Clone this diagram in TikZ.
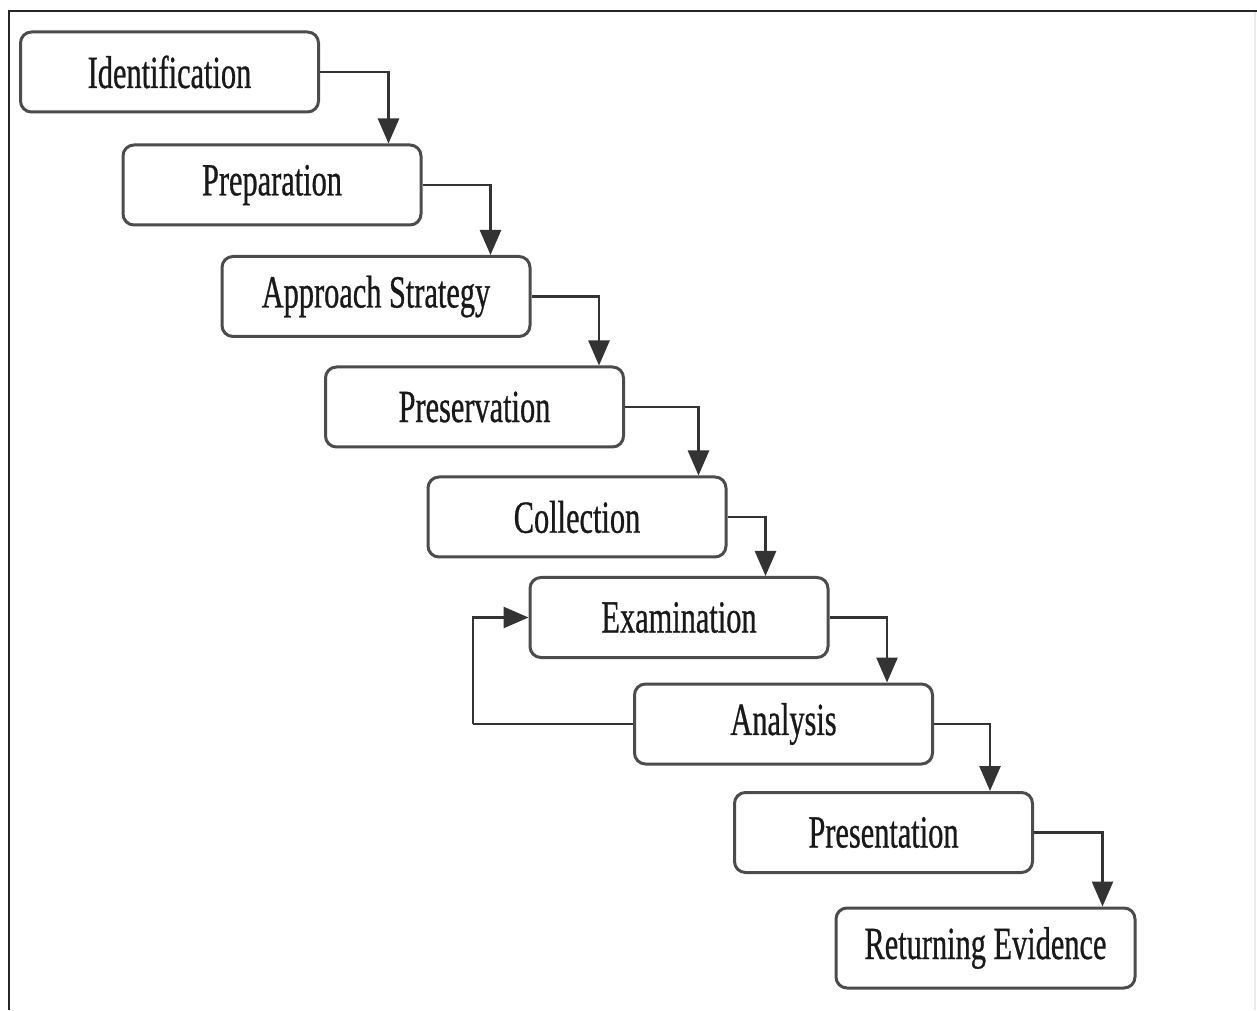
\documentclass[tikz,border=0pt]{standalone}
\usepackage{fontspec}
\setmainfont[FakeStretch=0.66,FakeBold=0.6]{Liberation Serif}
\usetikzlibrary{arrows.meta,calc}
\begin{document}
\begin{tikzpicture}[x=1pt,y=1pt,
  stage/.style={draw=black!70, line width=3pt, rounded corners=11pt, fill=white,
    minimum width=298pt, minimum height=80pt, inner sep=0pt,
    font=\fontsize{46pt}{50pt}\selectfont, text=black!90},
  flow/.style={draw=black!80, line width=2.6pt,
    -{Triangle[width=21pt,length=25pt]}},
  link/.style={draw=black!80, line width=2.6pt}]
\useasboundingbox (0,0) rectangle (1257,1010);
\fill[white] (0,0) rectangle (1257,1010);
% outer frame
\draw[black!85, line width=2pt] (8.5,0) -- (8.5,998.5) -- (1257,998.5);
\draw[black!8, line width=1.5pt] (1255,0) -- (1255,998);

% process stages
\node[stage] (id)  at (169.5,938)  {Identification};
\node[stage] (pre) at (272,825)    {Preparation};
\node[stage, minimum width=308pt] (app) at (376,713.5) {Approach Strategy};
\node[stage] (pres) at (474.5,603) {Preservation};
\node[stage] (col) at (577,493)    {Collection};
\node[stage] (ex)  at (679,392.5)  {Examination};
\node[stage] (an)  at (783.5,286)  {Analysis};
\node[stage] (pt)  at (883.5,177.5) {Presentation};
\node[stage, minimum width=299pt] (ret) at (985.5,62) {Returning Evidence};

% step-down connectors
\draw[flow] (id.east)   -| ([xshift=267pt]pre.north west);
\draw[flow] (pre.east)  -| ([xshift=270pt]app.north west);
\draw[flow] (app.east)  -| ([xshift=275pt]pres.north west);
\draw[flow] (pres.east) -| ([xshift=272pt]col.north west);
\draw[flow] (col.east)  -| ([xshift=237pt]ex.north west);
\draw[flow] (ex.east)   -| ([xshift=254pt]an.north west);
\draw[flow] (an.east)   -| ([xshift=257pt]pt.north west);
\draw[flow] (pt.east)   -| ([xshift=268pt]ret.north west);

% feedback loop from analysis back to examination
\coordinate (loop) at ($(an.west)+(-160,0)$);
\draw[link] (an.west) -- (loop);
\draw[flow] (loop) |- (ex.west);
\end{tikzpicture}
\end{document}
